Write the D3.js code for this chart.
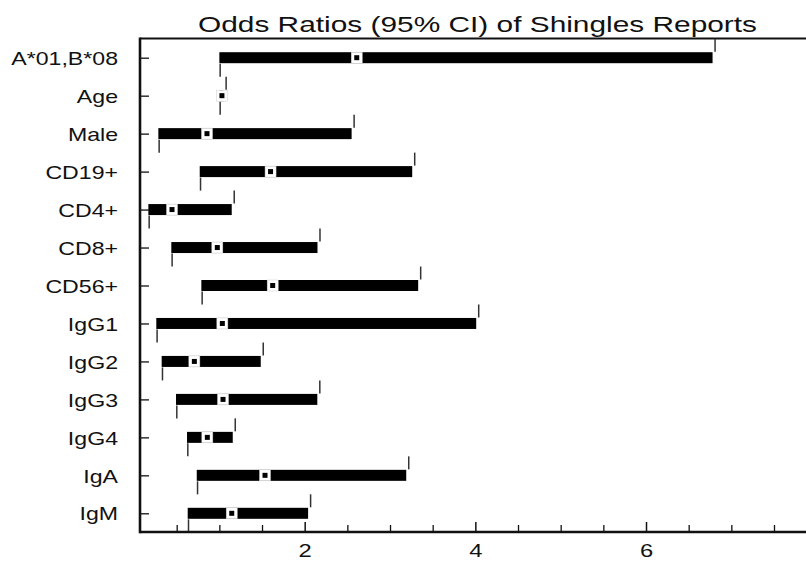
<!DOCTYPE html>
<html>
<head>
<meta charset="utf-8">
<script src="https://cdn.jsdelivr.net/npm/d3@7"></script>
<style>
  body { margin: 0; background: #fff; }
  svg { display: block; font-family: "Liberation Sans", Arial, sans-serif; }
</style>
</head>
<body>
<div id="chart"></div>
<script>
// odds ratios with 95% CI, one row per factor
const labels = ["A*01,B*08", "Age", "Male", "CD19+", "CD4+", "CD8+", "CD56+", "IgG1", "IgG2", "IgG3", "IgG4", "IgA", "IgM"];
const lower = [1.00, 1.00, 0.285, 0.77, 0.168, 0.437, 0.789, 0.261, 0.324, 0.492, 0.621, 0.735, 0.629];
const estimate = [2.61, 1.03, 0.855, 1.60, 0.445, 0.976, 1.625, 1.035, 0.707, 1.043, 0.859, 1.535, 1.145];
const upper = [6.78, 1.05, 2.55, 3.26, 1.145, 2.15, 3.33, 4.01, 1.485, 2.148, 1.157, 3.19, 2.04];
const majorTicks = [2, 4, 6];
const minorTicks = d3.range(0.5, 8, 0.5).filter(d => !majorTicks.includes(d));
const title = "Odds Ratios (95% CI) of Shingles Reports";

const width = 806;
const height = 562;
const plotLeft = 140, plotTop = 38.5, plotBottom = 532, plotRight = 806;
const stretch = 1.25; // the original font is drawn wider than it is tall

const rows = labels.map((label, i) => ({label, lo: lower[i], est: estimate[i], hi: upper[i]}));

const x = d3.scaleLinear().domain([0.07, 7.875]).range([plotLeft, plotRight]);
const y = d3.scalePoint().domain(labels).range([57.7, 513.3]);

const svg = d3.select("#chart").append("svg")
    .attr("width", width)
    .attr("height", height)
    .attr("viewBox", [0, 0, width, height]);

svg.append("rect").attr("width", width).attr("height", height).attr("fill", "#fff");

// title
svg.append("text")
    .attr("x", 198)
    .attr("y", 32)
    .attr("font-size", 22)
    .attr("textLength", 559)
    .attr("lengthAdjust", "spacingAndGlyphs")
    .attr("fill", "#111")
    .text(title);

// top border
svg.append("line")
    .attr("x1", plotLeft).attr("x2", plotRight)
    .attr("y1", plotTop).attr("y2", plotTop)
    .attr("stroke", "#111").attr("stroke-width", 2);

// bars
const g = svg.append("g");

g.selectAll("rect.bar")
  .data(rows)
  .join("rect")
    .attr("class", "bar")
    .attr("x", d => x(d.lo))
    .attr("y", d => y(d.label) - 5.5)
    .attr("width", d => x(d.hi) - x(d.lo))
    .attr("height", 11)
    .attr("fill", "#000");

// upper whisker, just right of the bar end, above it
g.selectAll("line.hiw")
  .data(rows)
  .join("line")
    .attr("class", "hiw")
    .attr("x1", d => x(d.hi) + 2.5).attr("x2", d => x(d.hi) + 2.5)
    .attr("y1", d => y(d.label) - 19).attr("y2", d => y(d.label) - 6)
    .attr("stroke", "#333").attr("stroke-width", 1.5);

// lower whisker, below the bar start
g.selectAll("line.low")
  .data(rows)
  .join("line")
    .attr("class", "low")
    .attr("x1", d => x(d.lo) + 0.8).attr("x2", d => x(d.lo) + 0.8)
    .attr("y1", d => y(d.label) + 6).attr("y2", d => y(d.label) + 19)
    .attr("stroke", "#333").attr("stroke-width", 1.5);

// point estimate: white box with a small black square
g.selectAll("rect.box")
  .data(rows)
  .join("rect")
    .attr("class", "box")
    .attr("x", d => x(d.est) - 5.5)
    .attr("y", d => y(d.label) - 5.5)
    .attr("width", 11)
    .attr("height", 11)
    .attr("fill", "#fff")
    .attr("stroke", "#ccc")
    .attr("stroke-width", 0.5);

g.selectAll("rect.dot")
  .data(rows)
  .join("rect")
    .attr("class", "dot")
    .attr("x", d => x(d.est) - 2.5)
    .attr("y", d => y(d.label) - 2.5)
    .attr("width", 5)
    .attr("height", 5)
    .attr("fill", "#000");

// left axis
svg.append("g")
    .attr("transform", `translate(${plotLeft},0)`)
    .call(d3.axisLeft(y).tickSize(-9).tickPadding(22).tickSizeOuter(0))
    .call(g => g.select(".domain").remove())
    .call(g => g.selectAll(".tick line").attr("stroke", "#111").attr("stroke-width", 1.3))
    .call(g => g.selectAll(".tick text")
        .attr("font-size", 18.5)
        .attr("font-family", "Liberation Sans, Arial, sans-serif")
        .attr("fill", "#111")
        .attr("x", -22 / stretch)
        .attr("transform", `scale(${stretch},1)`)
        .attr("dy", "0.36em"));

svg.append("line")
    .attr("x1", plotLeft).attr("x2", plotLeft)
    .attr("y1", plotTop - 1).attr("y2", plotBottom + 1.2)
    .attr("stroke", "#111").attr("stroke-width", 2.6);

// bottom axis: minor then major ticks
svg.append("g")
    .attr("transform", `translate(0,${plotBottom})`)
    .call(d3.axisBottom(x).tickValues(minorTicks).tickSize(-7).tickFormat(""))
    .call(g => g.select(".domain").remove())
    .call(g => g.selectAll(".tick line").attr("stroke", "#111").attr("stroke-width", 1.3));

svg.append("g")
    .attr("transform", `translate(0,${plotBottom})`)
    .call(d3.axisBottom(x).tickValues(majorTicks).tickSize(-10).tickPadding(12).tickFormat(d3.format("d")))
    .call(g => g.select(".domain").remove())
    .call(g => g.selectAll(".tick line").attr("stroke", "#111").attr("stroke-width", 1.5))
    .call(g => g.selectAll(".tick text")
        .attr("font-size", 19)
        .attr("font-family", "Liberation Sans, Arial, sans-serif")
        .attr("fill", "#111")
        .attr("transform", `scale(${stretch},1)`));

svg.append("line")
    .attr("x1", plotLeft).attr("x2", plotRight)
    .attr("y1", plotBottom).attr("y2", plotBottom)
    .attr("stroke", "#111").attr("stroke-width", 2.4);
</script>
</body>
</html>
